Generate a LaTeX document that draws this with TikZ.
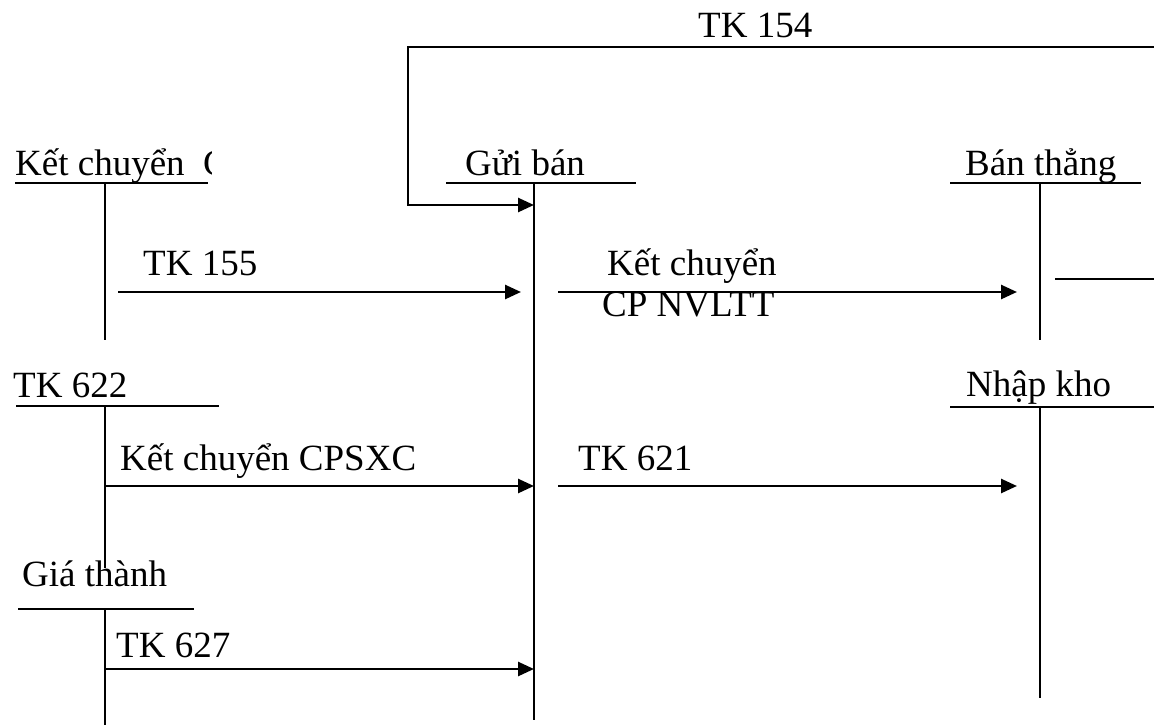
\documentclass[tikz,border=0pt]{standalone}
\usepackage{fontspec}
\setmainfont{Liberation Serif}
\usetikzlibrary{arrows.meta}
\begin{document}
\begin{tikzpicture}[x=1pt,y=-1pt,
  lbl/.style={anchor=base west,inner sep=0pt,font=\fontsize{37}{40}\selectfont},
  tline/.style={line width=2.2pt},
  arr/.style={line width=2.6pt,-{Triangle[length=16pt,width=14pt]}}]
\useasboundingbox[fill=white] (0,0) rectangle (1154,725);
% T-account 1 (top left)
\begin{scope}
\clip (0,100) rectangle (211,200);
\node[lbl] (t1) at (15,175) {Kết chuyển~~C};
\end{scope}
\coordinate (t1l) at (15,183); \coordinate (t1r) at (208,183);
\coordinate (t1t) at (105,183); \coordinate (t1b) at (105,340);
\draw[tline] (t1l) -- (t1r); \draw[tline] (t1t) -- (t1b);
% Gui ban
\node[lbl] (t2) at (465,175) {Gửi bán};
\coordinate (t2l) at (446,183); \coordinate (t2r) at (636,183);
\coordinate (t2t) at (534,183); \coordinate (t2b) at (534,720);
\draw[tline] (t2l) -- (t2r); \draw[tline] (t2t) -- (t2b);
% Ban thang
\node[lbl] (t3) at (965,175) {Bán thẳng};
\coordinate (t3l) at (950,183); \coordinate (t3r) at (1141,183);
\coordinate (t3t) at (1040,183); \coordinate (t3b) at (1040,340);
\draw[tline] (t3l) -- (t3r); \draw[tline] (t3t) -- (t3b);
\coordinate (s1) at (1055,279); \coordinate (s2) at (1154,279);
\draw[tline] (s1) -- (s2);
% TK 622
\node[lbl] (t4) at (13,397) {TK 622};
\coordinate (t4l) at (16,406); \coordinate (t4r) at (219,406);
\coordinate (t4t) at (105,406); \coordinate (t4b) at (105,568);
\draw[tline] (t4l) -- (t4r); \draw[tline] (t4t) -- (t4b);
% Nhap kho
\node[lbl] (t5) at (966,396) {Nhập kho};
\coordinate (t5l) at (950,407); \coordinate (t5r) at (1154,407);
\coordinate (t5t) at (1040,407); \coordinate (t5b) at (1040,698);
\draw[tline] (t5l) -- (t5r); \draw[tline] (t5t) -- (t5b);
% Gia thanh
\node[lbl] (t6) at (22,586) {Giá thành};
\coordinate (t6l) at (18,609); \coordinate (t6r) at (194,609);
\coordinate (t6t) at (105,609); \coordinate (t6b) at (105,725);
\draw[tline] (t6l) -- (t6r); \draw[tline] (t6t) -- (t6b);
% TK 154 loop
\node[lbl] (l154) at (698,38) {TK 154};
\coordinate (p1) at (1154,47); \coordinate (p2) at (408,47);
\coordinate (p3) at (408,205); \coordinate (p4) at (534,205);
\draw[arr] (p1) -- (p2) -- (p3) -- (p4);
% row 1 arrows
\node[lbl] (l155) at (143,275) {TK 155};
\coordinate (a1s) at (118,292); \coordinate (a1e) at (521,292);
\draw[arr] (a1s) -- (a1e);
\node[lbl] (lkc1) at (607,275) {Kết chuyển};
\node[lbl] (lkc2) at (602,316) {CP NVLTT};
\coordinate (a2s) at (558,292); \coordinate (a2e) at (1017,292);
\draw[arr] (a2s) -- (a2e);
% row 2 arrows
\node[lbl] (lsxc) at (120,470) {Kết chuyển CPSXC};
\coordinate (a3s) at (105,486); \coordinate (a3e) at (534,486);
\draw[arr] (a3s) -- (a3e);
\node[lbl] (l621) at (578,470) {TK 621};
\coordinate (a4s) at (558,486); \coordinate (a4e) at (1017,486);
\draw[arr] (a4s) -- (a4e);
% row 3 arrow
\node[lbl] (l627) at (116,657) {TK 627};
\coordinate (a5s) at (105,669); \coordinate (a5e) at (534,669);
\draw[arr] (a5s) -- (a5e);
\end{tikzpicture}
\end{document}
